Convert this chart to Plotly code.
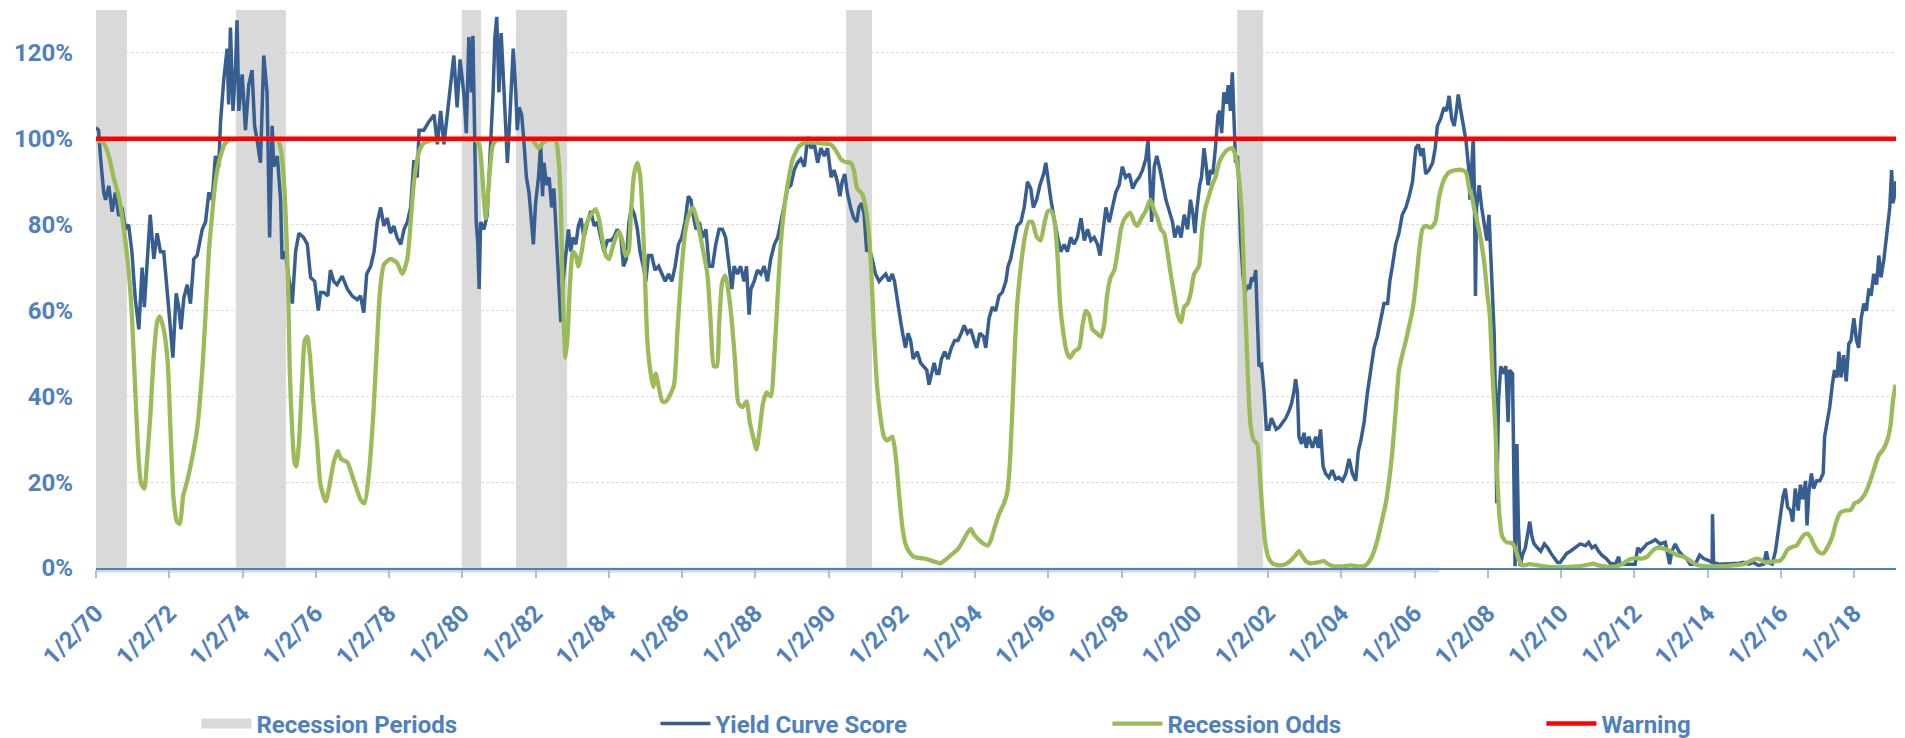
import pandas as pd
import plotly.graph_objects as go

# ---------------- data (decimal years, percent) ----------------
ycs_year = [1970.00,1970.07,1970.12,1970.21,1970.26,1970.35,1970.44,1970.53,1970.62,1970.71,1970.80,1970.89,1970.98,
1971.07,1971.17,1971.26,1971.32,1971.39,1971.48,1971.58,1971.67,1971.76,1971.85,1971.94,1972.03,1972.10,1972.19,1972.26,
1972.32,1972.40,1972.49,1972.58,1972.67,1972.76,1972.90,1972.99,1973.08,1973.17,1973.26,1973.35,1973.40,1973.49,1973.58,
1973.62,1973.67,1973.74,1973.81,1973.85,1973.90,1973.99,1974.08,1974.17,1974.26,1974.33,1974.40,1974.49,1974.58,1974.67,
1974.74,1974.81,1974.85,1974.95,1975.04,1975.08,1975.17,1975.26,1975.36,1975.45,1975.54,1975.67,1975.77,1975.86,1975.97,
1976.07,1976.13,1976.22,1976.33,1976.40,1976.49,1976.58,1976.72,1976.86,1976.99,1977.13,1977.22,1977.31,1977.39,1977.50,
1977.59,1977.68,1977.77,1977.86,1977.95,1978.04,1978.13,1978.22,1978.32,1978.41,1978.50,1978.59,1978.68,1978.77,1978.82,
1978.95,1979.09,1979.23,1979.32,1979.41,1979.50,1979.59,1979.68,1979.77,1979.86,1979.94,
1980.05,1980.11,1980.18,1980.25,1980.29,1980.35,1980.38,1980.42,1980.46,1980.50,1980.59,1980.68,1980.77,1980.84,1980.89,
1980.94,1981.00,1981.06,1981.14,1981.18,1981.23,1981.28,1981.35,1981.39,1981.46,1981.50,1981.55,1981.62,1981.68,1981.75,
1981.82,1981.89,1981.94,1982.00,1982.08,1982.14,1982.19,1982.23,1982.30,1982.37,1982.44,1982.50,1982.55,1982.60,1982.64,
1982.69,1982.75,1982.82,1982.90,1982.96,1983.02,1983.10,1983.17,1983.24,1983.32,1983.42,1983.51,1983.60,1983.69,1983.78,
1983.87,1983.96,1984.05,1984.14,1984.23,1984.33,1984.40,1984.48,1984.55,1984.62,1984.70,1984.78,1984.85,1984.94,1985.01,
1985.08,1985.17,1985.26,1985.36,1985.45,1985.54,1985.63,1985.72,1985.81,1985.90,1985.99,1986.08,1986.17,1986.24,1986.30,
1986.38,1986.47,1986.56,1986.65,1986.74,1986.83,1986.92,1987.01,1987.10,1987.19,1987.29,1987.36,1987.42,1987.51,1987.60,
1987.69,1987.76,1987.83,1987.88,1987.97,1988.06,1988.15,1988.24,1988.33,1988.42,1988.52,1988.61,1988.70,1988.79,1988.88,
1988.97,1989.06,1989.15,1989.24,1989.34,1989.43,1989.52,1989.61,1989.70,1989.79,1989.88,1989.97,
1990.07,1990.15,1990.24,1990.31,1990.37,1990.44,1990.51,1990.60,1990.69,1990.77,1990.83,1990.90,1990.97,1991.04,1991.10,
1991.19,1991.28,1991.38,1991.47,1991.56,1991.65,1991.74,1991.80,1991.88,1991.97,1992.04,1992.10,1992.17,1992.24,1992.31,
1992.42,1992.51,1992.60,1992.68,1992.74,1992.81,1992.88,1992.95,1993.01,1993.08,1993.17,1993.26,1993.35,1993.44,1993.53,
1993.62,1993.70,1993.79,1993.88,1993.97,1994.04,1994.13,1994.23,1994.29,1994.38,1994.47,1994.56,1994.65,1994.74,1994.84,
1994.90,1994.97,1995.06,1995.15,1995.25,1995.34,1995.43,1995.52,1995.59,1995.68,1995.77,1995.87,1995.93,1995.99,1996.07,
1996.14,1996.20,1996.27,1996.34,1996.43,1996.52,1996.61,1996.70,1996.79,1996.89,1996.98,1997.07,1997.16,1997.25,1997.34,
1997.41,1997.48,1997.57,1997.66,1997.75,1997.84,1997.93,1998.02,1998.11,1998.21,1998.30,1998.39,1998.48,1998.57,1998.66,
1998.72,1998.78,1998.82,1998.89,1998.96,1999.05,1999.12,1999.21,1999.30,1999.39,1999.45,1999.54,1999.62,1999.71,1999.80,
1999.88,1999.95,
2000.00,2000.06,2000.13,2000.18,2000.25,2000.31,2000.36,2000.43,2000.49,2000.56,2000.63,2000.68,2000.73,2000.79,2000.86,
2000.91,2000.97,2001.02,2001.07,2001.11,2001.16,2001.20,2001.25,2001.31,2001.37,2001.43,2001.49,2001.55,2001.61,2001.66,
2001.70,2001.75,2001.82,2001.89,2001.95,2002.02,2002.09,2002.16,2002.22,2002.30,2002.39,2002.48,2002.57,2002.64,2002.70,
2002.75,2002.80,2002.84,2002.91,2002.98,2003.04,2003.11,2003.21,2003.30,2003.37,2003.43,2003.50,2003.57,2003.66,2003.75,
2003.84,2003.93,2004.03,2004.12,2004.21,2004.30,2004.39,2004.46,2004.53,2004.62,2004.71,2004.80,2004.89,2004.98,2005.07,
2005.16,2005.26,2005.32,2005.39,2005.48,2005.57,2005.66,2005.76,2005.85,2005.94,2006.03,2006.10,2006.17,2006.23,2006.30,
2006.39,2006.49,2006.56,2006.62,2006.71,2006.80,2006.87,2006.94,2007.01,2007.08,2007.14,2007.19,2007.26,2007.32,2007.40,
2007.47,2007.51,2007.56,2007.60,2007.63,2007.66,2007.69,2007.76,2007.83,2007.90,2007.97,2008.03,2008.08,2008.12,2008.17,
2008.21,2008.24,2008.29,2008.35,2008.41,2008.49,2008.55,2008.59,2008.67,2008.72,2008.74,2008.79,2008.83,2008.88,2008.94,
2009.02,2009.08,2009.14,2009.20,2009.26,2009.35,2009.44,2009.54,2009.63,2009.72,2009.81,2009.90,2009.97,
2010.06,2010.15,2010.25,2010.38,2010.52,2010.66,2010.75,2010.84,2010.93,2011.02,2011.11,2011.23,2011.34,2011.48,2011.57,
2011.61,2011.75,2011.89,2012.02,2012.09,2012.16,2012.25,2012.34,2012.45,2012.57,2012.70,2012.84,2012.96,2013.02,2013.11,
2013.21,2013.30,2013.42,2013.52,2013.66,2013.78,2013.89,2014.03,2014.12,2014.13,2014.16,2014.30,2014.44,2014.57,2014.71,
2014.85,2014.98,2015.12,2015.25,2015.39,2015.53,2015.60,2015.66,2015.76,2015.85,2015.91,2015.98,2016.06,2016.12,2016.18,
2016.26,2016.32,2016.39,2016.47,2016.53,2016.60,2016.67,2016.71,2016.76,2016.83,2016.89,2016.97,2017.06,2017.15,2017.19,
2017.26,2017.33,2017.40,2017.46,2017.53,2017.58,2017.64,2017.71,2017.78,2017.85,2017.91,2017.99,2018.06,2018.12,2018.19,
2018.26,2018.33,2018.40,2018.46,2018.53,2018.61,2018.67,2018.73,2018.81,2018.88,2018.93,2018.97,2019.02,2019.06,2019.11,
2019.14]

ycs_pct = [102.6,102.0,96.0,87.5,85.8,89.0,83.0,87.5,82.0,84.0,79.0,80.0,73.7,
63.0,55.6,70.0,60.8,69.4,82.3,72.0,78.0,73.7,73.7,65.0,54.7,49.0,64.0,60.8,
55.6,63.0,66.0,61.6,72.0,72.8,78.9,80.6,87.5,85.8,96.0,93.5,104.0,114.0,121.0,
108.0,125.9,106.5,116.8,127.6,106.5,115.0,102.0,112.5,116.0,103.0,99.6,94.4,119.4,110.8,
77.0,103.0,93.5,96.0,85.8,72.0,73.7,67.7,61.6,73.7,78.0,77.0,75.4,67.7,66.8,
60.0,64.2,64.2,63.4,69.4,66.8,66.0,68.0,65.0,63.4,62.5,63.4,59.5,68.5,70.3,
73.7,80.6,84.0,79.7,81.5,78.0,79.7,77.0,75.4,78.9,80.6,84.0,95.0,91.0,102.0,
102.0,104.0,105.6,98.7,106.5,98.7,105.6,112.5,119.4,107.3,118.5,
110.0,101.3,123.7,110.8,124.0,97.8,80.6,76.3,65.0,80.6,78.9,82.3,97.8,110.8,123.7,
128.4,110.8,124.6,110.8,103.9,94.4,102.0,115.0,121.0,110.8,102.0,107.3,105.6,99.6,91.0,
87.5,78.9,75.4,85.0,91.0,98.7,86.6,94.4,89.2,91.0,84.0,88.4,80.6,70.3,63.4,
57.3,66.8,72.0,78.9,73.7,77.0,75.4,79.7,81.5,77.0,80.6,83.2,79.7,80.6,77.0,
73.7,76.3,76.3,77.0,78.9,77.0,70.3,72.0,80.6,84.0,82.3,78.9,73.7,70.3,66.8,
72.8,72.8,69.4,70.3,68.5,66.8,68.5,66.8,70.3,75.4,77.0,80.6,86.6,85.8,82.3,
78.9,80.6,77.0,78.9,70.3,70.3,75.4,78.9,78.9,77.0,70.3,65.0,70.3,68.5,70.3,
66.8,70.3,59.0,65.0,66.8,69.4,68.5,70.3,66.8,72.0,75.4,77.0,80.6,85.0,88.4,
89.2,92.7,94.4,95.3,93.5,100.4,97.8,98.7,94.4,97.8,96.0,97.8,
91.0,92.7,90.0,86.6,90.0,91.8,87.5,84.0,81.5,80.6,84.0,85.0,82.3,73.7,74.6,
72.0,68.5,66.8,67.7,68.5,66.8,68.5,66.8,61.6,57.3,53.9,51.3,54.7,53.0,48.7,
50.4,47.8,47.0,46.1,42.7,45.3,47.8,45.3,45.3,48.7,50.4,48.7,51.3,53.0,53.0,
54.7,56.5,54.7,55.6,53.0,51.3,54.7,53.9,51.3,58.2,60.8,59.9,63.4,64.2,66.8,
70.3,72.0,75.4,79.7,80.6,84.0,90.0,88.4,84.0,85.8,89.2,91.8,94.4,90.0,85.8,
82.3,78.9,76.3,73.7,75.4,73.7,77.0,75.4,77.0,81.5,76.3,78.9,76.3,77.0,75.4,
72.8,78.0,84.0,80.6,84.0,87.5,89.2,93.5,91.0,91.8,88.4,90.0,91.0,92.7,95.3,
99.6,89.2,80.6,93.5,96.0,92.7,89.2,85.8,83.2,80.6,77.0,79.7,77.0,82.3,78.9,
85.8,82.3,
78.0,84.0,89.2,91.0,97.8,93.5,89.2,92.7,91.8,97.8,105.6,106.5,101.3,110.8,108.2,
112.5,106.5,115.5,100.4,94.4,96.0,89.2,76.3,68.5,64.2,65.9,65.0,67.7,66.8,69.4,
59.0,47.0,47.4,40.9,32.3,32.3,34.9,33.2,32.3,32.8,34.0,34.9,36.6,38.4,40.9,
44.0,40.9,30.6,28.9,31.5,28.0,30.6,28.0,30.6,28.0,32.3,23.7,22.0,21.1,22.8,
20.7,21.1,20.3,22.0,25.4,22.0,20.3,27.2,29.7,34.0,40.9,46.1,51.3,53.9,58.2,
61.6,61.6,66.8,70.3,75.4,78.0,82.3,84.0,86.6,90.0,97.8,98.7,96.0,97.8,91.8,
92.7,94.4,97.8,103.0,104.7,107.3,106.5,110.0,104.7,103.0,106.5,110.3,106.5,103.0,99.6,
93.5,85.8,93.5,100.4,87.5,63.4,84.0,89.2,84.0,80.6,76.3,82.3,72.0,61.6,54.7,
37.5,15.1,39.2,47.0,45.3,47.0,34.0,46.1,45.3,20.3,0.4,28.9,9.9,0.4,3.0,
4.7,8.2,10.8,7.3,5.6,4.7,3.9,5.6,4.7,3.4,2.2,1.3,1.3,
2.2,3.4,3.9,4.7,5.6,5.2,6.0,4.7,5.2,3.9,3.0,2.2,1.1,0.9,2.6,
0.9,0.9,0.9,0.9,4.7,3.9,4.7,5.6,6.0,6.6,5.6,6.0,0.9,3.9,5.6,
3.9,3.0,2.2,0.9,0.9,3.0,2.2,1.7,1.3,12.5,1.3,0.9,0.9,1.1,0.9,
1.1,1.3,0.9,1.3,0.6,0.9,3.9,1.3,0.9,3.9,7.3,11.6,16.8,18.5,14.2,
13.4,10.8,18.5,13.4,19.4,16.0,20.3,9.9,17.7,22.0,18.5,20.3,20.3,22.0,30.6,
34.0,37.5,42.7,46.1,44.4,50.4,44.4,49.6,43.5,52.2,53.0,58.2,53.0,51.3,58.2,
61.6,59.9,65.1,63.4,68.5,66.0,72.8,67.7,72.0,77.2,80.6,84.0,92.7,85.0,87.5,
90.1]

odds_year = [1970.00,1970.21,1970.35,1970.48,1970.62,1970.76,1970.89,1970.98,1971.07,1971.17,1971.23,1971.32,1971.39,
1971.48,1971.58,1971.67,1971.74,1971.85,1971.96,1972.03,1972.12,1972.21,1972.29,1972.38,1972.49,1972.62,1972.76,1972.90,
1972.99,1973.08,1973.17,1973.26,1973.40,1973.53,1973.67,1974.95,1975.04,1975.11,1975.17,1975.24,1975.29,1975.36,1975.42,
1975.47,1975.54,1975.63,1975.70,1975.77,1975.84,1975.93,1976.04,1976.13,1976.27,1976.36,1976.49,1976.60,1976.69,1976.86,
1977.04,1977.22,1977.33,1977.45,1977.57,1977.66,1977.75,1977.86,1978.04,1978.22,1978.36,1978.50,1978.59,1978.68,1978.82,
1978.95,1979.23,1980.36,1980.46,1980.53,1980.59,1980.64,1980.69,1980.76,1980.84,1980.96,1981.91,1982.00,1982.09,1982.20,
1982.32,1982.55,1982.62,1982.69,1982.73,1982.78,1982.82,1982.88,1982.94,1983.02,1983.10,1983.17,1983.26,1983.37,1983.51,
1983.64,1983.73,1983.83,1983.92,1984.01,1984.10,1984.19,1984.28,1984.37,1984.46,1984.54,1984.60,1984.69,1984.78,1984.85,
1984.92,1984.99,1985.05,1985.13,1985.21,1985.28,1985.37,1985.46,1985.56,1985.65,1985.78,1985.87,1985.97,1986.08,1986.19,
1986.30,1986.42,1986.56,1986.69,1986.78,1986.87,1986.95,1987.01,1987.10,1987.18,1987.27,1987.36,1987.45,1987.54,1987.65,
1987.76,1987.85,1987.94,1988.03,1988.12,1988.21,1988.31,1988.42,1988.52,1988.61,1988.70,1988.79,1988.88,1989.02,1989.20,
1989.38,1989.61,1989.84,1990.05,1990.19,1990.33,1990.46,1990.60,1990.69,1990.78,1990.92,1991.01,1991.10,1991.17,1991.24,
1991.33,1991.42,1991.51,1991.60,1991.74,1991.83,1991.92,1992.01,1992.10,1992.19,1992.33,1992.51,1992.70,1992.88,1993.04,
1993.20,1993.38,1993.52,1993.65,1993.79,1993.88,1993.97,1994.11,1994.24,1994.34,1994.43,1994.52,1994.65,1994.79,1994.88,
1994.95,1995.02,1995.08,1995.15,1995.25,1995.36,1995.47,1995.56,1995.68,1995.79,1995.90,1995.99,1996.08,1996.17,1996.25,
1996.32,1996.41,1996.50,1996.59,1996.70,1996.84,1996.93,1997.02,1997.11,1997.20,1997.32,1997.43,1997.52,1997.60,1997.70,
1997.80,1997.89,1997.98,1998.09,1998.23,1998.34,1998.43,1998.54,1998.66,1998.78,1998.89,1998.98,1999.07,1999.16,1999.25,
1999.34,1999.44,1999.53,1999.62,1999.71,1999.80,1999.89,1999.98,2000.11,2000.20,2000.29,2000.38,2000.47,2000.56,2000.66,
2000.75,2000.88,2001.02,2001.11,2001.20,2001.28,2001.34,2001.40,2001.46,2001.52,2001.61,2001.70,2001.77,2001.84,2001.91,
2002.00,2002.11,2002.30,2002.48,2002.61,2002.75,2002.84,2002.93,2003.04,2003.16,2003.34,2003.52,2003.64,2003.80,2004.03,
2004.25,2004.44,2004.62,2004.74,2004.85,2004.98,2005.12,2005.21,2005.30,2005.39,2005.48,2005.57,2005.66,2005.76,2005.85,
2005.94,2006.03,2006.12,2006.21,2006.30,2006.44,2006.56,2006.67,2006.80,2006.94,2007.12,2007.30,2007.40,2007.49,2007.56,
2007.62,2007.71,2007.81,2007.90,2007.99,2008.05,2008.12,2008.20,2008.26,2008.32,2008.39,2008.51,2008.65,2008.74,2008.83,
2008.94,2009.13,2009.31,2009.54,2009.76,2009.97,2010.43,2010.70,2010.87,2011.02,2011.25,2011.52,2011.70,2011.84,2012.02,
2012.20,2012.34,2012.48,2012.61,2012.80,2012.98,2013.16,2013.34,2013.52,2013.71,2013.98,2014.34,2014.71,2014.98,2015.16,
2015.33,2015.44,2015.57,2015.76,2015.98,2016.07,2016.18,2016.30,2016.42,2016.53,2016.64,2016.73,2016.82,2016.91,2017.03,
2017.15,2017.26,2017.40,2017.51,2017.62,2017.76,2017.90,2018.01,2018.12,2018.26,2018.40,2018.53,2018.67,2018.79,2018.90,
2018.99,2019.06,2019.13]

odds_pct = [99.7,99.0,96.0,91.0,86.6,79.0,69.4,59.0,41.8,24.6,19.8,18.5,24.6,
35.0,49.6,57.3,58.6,55.6,47.8,33.2,16.0,10.8,10.3,16.8,20.3,25.4,32.3,46.0,
59.0,73.7,82.3,90.0,96.0,99.0,99.8,99.7,97.8,92.7,84.0,67.7,46.0,31.5,24.6,
23.7,28.9,43.5,53.0,53.9,49.6,39.2,28.9,19.4,15.5,18.5,24.6,27.2,25.4,24.6,
20.3,16.0,15.1,22.0,35.8,50.4,64.2,70.7,72.0,71.1,68.5,72.0,80.6,90.0,97.0,
99.0,99.7,99.7,98.7,93.5,85.8,81.5,85.8,93.5,98.7,99.7,99.7,98.7,97.8,99.1,
99.7,99.7,96.0,85.0,67.7,54.7,49.0,54.7,66.0,73.7,72.8,70.3,73.7,79.7,82.3,
83.6,81.5,76.3,72.8,72.0,74.6,77.0,78.4,76.3,72.8,73.7,82.3,91.8,94.4,91.8,
82.3,66.8,53.0,46.0,42.2,45.3,41.8,38.8,38.8,40.0,42.7,54.7,67.7,78.0,82.3,
84.0,80.6,74.6,68.5,57.3,47.0,47.0,56.5,66.8,68.1,64.2,57.3,47.8,38.4,37.5,
38.8,34.0,30.6,27.6,32.3,38.4,40.9,40.0,49.6,63.4,76.3,84.0,89.2,95.3,98.3,
99.1,99.1,98.9,98.7,97.4,95.3,94.6,94.4,92.7,88.4,87.1,84.0,78.0,68.5,54.7,
41.8,35.0,30.6,29.7,30.6,26.3,17.7,9.9,5.6,3.9,2.6,2.3,2.0,1.5,1.1,
2.0,3.3,4.3,6.0,8.2,9.1,7.8,6.5,5.6,5.2,6.5,9.1,12.5,15.1,17.7,
24.6,37.5,50.4,61.6,70.3,77.2,80.6,80.6,77.2,76.3,80.6,83.2,83.2,80.6,72.8,
61.6,54.7,50.4,49.0,50.4,51.3,56.5,59.9,59.0,55.6,54.7,53.9,56.5,63.4,67.7,
69.4,73.7,78.9,81.5,82.8,80.6,79.7,81.5,83.2,85.8,83.2,81.5,78.9,78.0,73.7,
68.5,63.4,59.0,57.3,60.8,61.6,64.2,68.5,70.3,78.9,84.0,86.6,89.2,91.0,94.4,
96.0,97.4,97.8,96.0,91.0,82.3,68.5,54.7,41.8,33.2,29.7,28.9,22.0,13.4,6.5,
2.6,1.1,0.6,0.9,1.7,3.0,3.9,2.8,1.5,1.1,1.3,1.6,0.9,0.4,0.4,
0.6,0.4,0.4,1.3,3.0,6.5,11.6,15.1,20.3,27.2,36.6,46.1,49.6,53.0,56.5,
60.0,66.0,73.7,78.9,79.7,79.3,80.6,86.6,90.5,92.2,92.7,92.7,92.2,88.4,86.6,
84.0,80.6,76.3,71.1,63.4,59.0,46.1,33.2,20.3,11.6,7.3,6.0,5.8,4.7,2.2,
0.6,0.9,0.7,0.4,0.2,0.2,0.4,0.7,1.0,0.6,0.3,0.4,1.1,1.9,2.3,
2.2,2.6,3.9,4.7,4.5,3.9,3.0,2.6,1.7,0.7,0.4,0.4,0.6,0.9,1.6,
2.2,1.9,1.3,1.5,1.7,2.6,4.3,4.9,5.2,6.6,7.8,8.0,6.9,5.2,3.7,
3.4,4.7,7.3,10.8,12.9,13.4,13.5,15.1,15.5,16.8,19.4,22.8,26.3,27.6,29.7,
33.2,39.2,42.7]

# Recession periods (decimal years) and end of that series
rec_start = [1970.00, 1973.83, 1980.00, 1981.48, 1990.49, 2001.17]
rec_end = [1970.83, 1975.17, 1980.50, 1982.85, 1991.17, 2001.85]
rec_series_end = 2006.67
rec_level = 1.30

warning_level = 1.00
x_start, x_end = 1970.0, 2019.14

tick_years = list(range(1970, 2019, 2))
tick_labels = ['1/2/70', '1/2/72', '1/2/74', '1/2/76', '1/2/78', '1/2/80', '1/2/82', '1/2/84', '1/2/86',
               '1/2/88', '1/2/90', '1/2/92', '1/2/94', '1/2/96', '1/2/98', '1/2/00', '1/2/02', '1/2/04',
               '1/2/06', '1/2/08', '1/2/10', '1/2/12', '1/2/14', '1/2/16', '1/2/18']
y_ticks = [0, 0.2, 0.4, 0.6, 0.8, 1.0, 1.2]
y_labels = ['0%', '20%', '40%', '60%', '80%', '100%', '120%']
legend_names = ['Recession Periods', 'Yield Curve Score', 'Recession Odds', 'Warning']


def to_date(y):
    yr = int(y // 1)
    frac = y - yr
    a = pd.Timestamp(year=yr, month=1, day=2)
    b = pd.Timestamp(year=yr + 1, month=1, day=2)
    return a + (b - a) * frac


# recession area outline
rx, ry = [], []
for s, e in zip(rec_start, rec_end):
    rx += [s, s, e, e]
    ry += [0, rec_level, rec_level, 0]
rx.append(rec_series_end)
ry.append(0)

TXT = '#4F81BD'
FONT = 'Roboto'
tfont = dict(family=FONT, size=24, color=TXT, weight='bold')
REC_GREY = '#D9D9D9'

fig = go.Figure()
fig.add_trace(go.Scatter(
    x=[to_date(v) for v in rx], y=ry, name=legend_names[0], mode='lines',
    fill='tozeroy', fillcolor=REC_GREY, line=dict(color=REC_GREY, width=1),
    hoverinfo='skip', showlegend=False))
# legend-only entry giving the grey box swatch
fig.add_trace(go.Scatter(
    x=[None], y=[None], name=legend_names[0], mode='lines',
    line=dict(color=REC_GREY, width=18), legend='legend'))
fig.add_trace(go.Scatter(
    x=[to_date(v) for v in ycs_year], y=[v / 100 for v in ycs_pct], name=legend_names[1],
    mode='lines', line=dict(color='#365E91', width=3.5), legend='legend2'))
fig.add_trace(go.Scatter(
    x=[to_date(v) for v in odds_year], y=[v / 100 for v in odds_pct], name=legend_names[2],
    mode='lines', line=dict(color='#9BBB59', width=4.3, shape='spline', smoothing=0.6), legend='legend3'))
fig.add_trace(go.Scatter(
    x=[to_date(x_start), to_date(x_end)], y=[warning_level, warning_level], name=legend_names[3],
    mode='lines', line=dict(color='#FF0000', width=4.5), legend='legend4'))

# thin grey band that the recession series leaves under the axis
fig.add_shape(type='rect', xref='x', yref='paper', x0=to_date(x_start), x1=to_date(rec_series_end),
              y0=-0.008, y1=0, fillcolor=REC_GREY, line=dict(width=0), layer='below')


def leg(xp):
    return dict(orientation='h', x=xp, y=-0.2796, xanchor='left', yanchor='middle',
                font=tfont, itemwidth=50, bgcolor='rgba(0,0,0,0)')


fig.update_layout(
    width=1905, height=738,
    margin=dict(l=96, r=9, t=10, b=170, autoexpand=False),
    paper_bgcolor='white', plot_bgcolor='white',
    showlegend=True,
    legend=leg(0.0558), legend2=leg(0.3108), legend3=leg(0.5619), legend4=leg(0.8030),
    xaxis=dict(type='date', range=[to_date(x_start), to_date(x_end)],
               tickmode='array', tickvals=[to_date(y) for y in tick_years], ticktext=tick_labels,
               tickangle=-45, tickfont=tfont, ticklabelstandoff=12,
               showline=True, linecolor='#4F81BD', linewidth=1.5,
               ticks='outside', ticklen=8, tickwidth=1.5, tickcolor='#A9C1E0',
               showgrid=False, zeroline=False),
    yaxis=dict(range=[0, 1.3], tickmode='array', tickvals=y_ticks, ticktext=y_labels,
               tickfont=tfont,
               showgrid=True, gridcolor='#DCDCDC', gridwidth=1, griddash='3px,2px',
               zeroline=False, showline=False, ticks='', ticklabelstandoff=22),
)

fig.write_html('out.html', config={'displayModeBar': False},
               post_script="document.body.style.margin='0';document.body.style.padding='0';"
                           "document.body.style.overflow='hidden';")
